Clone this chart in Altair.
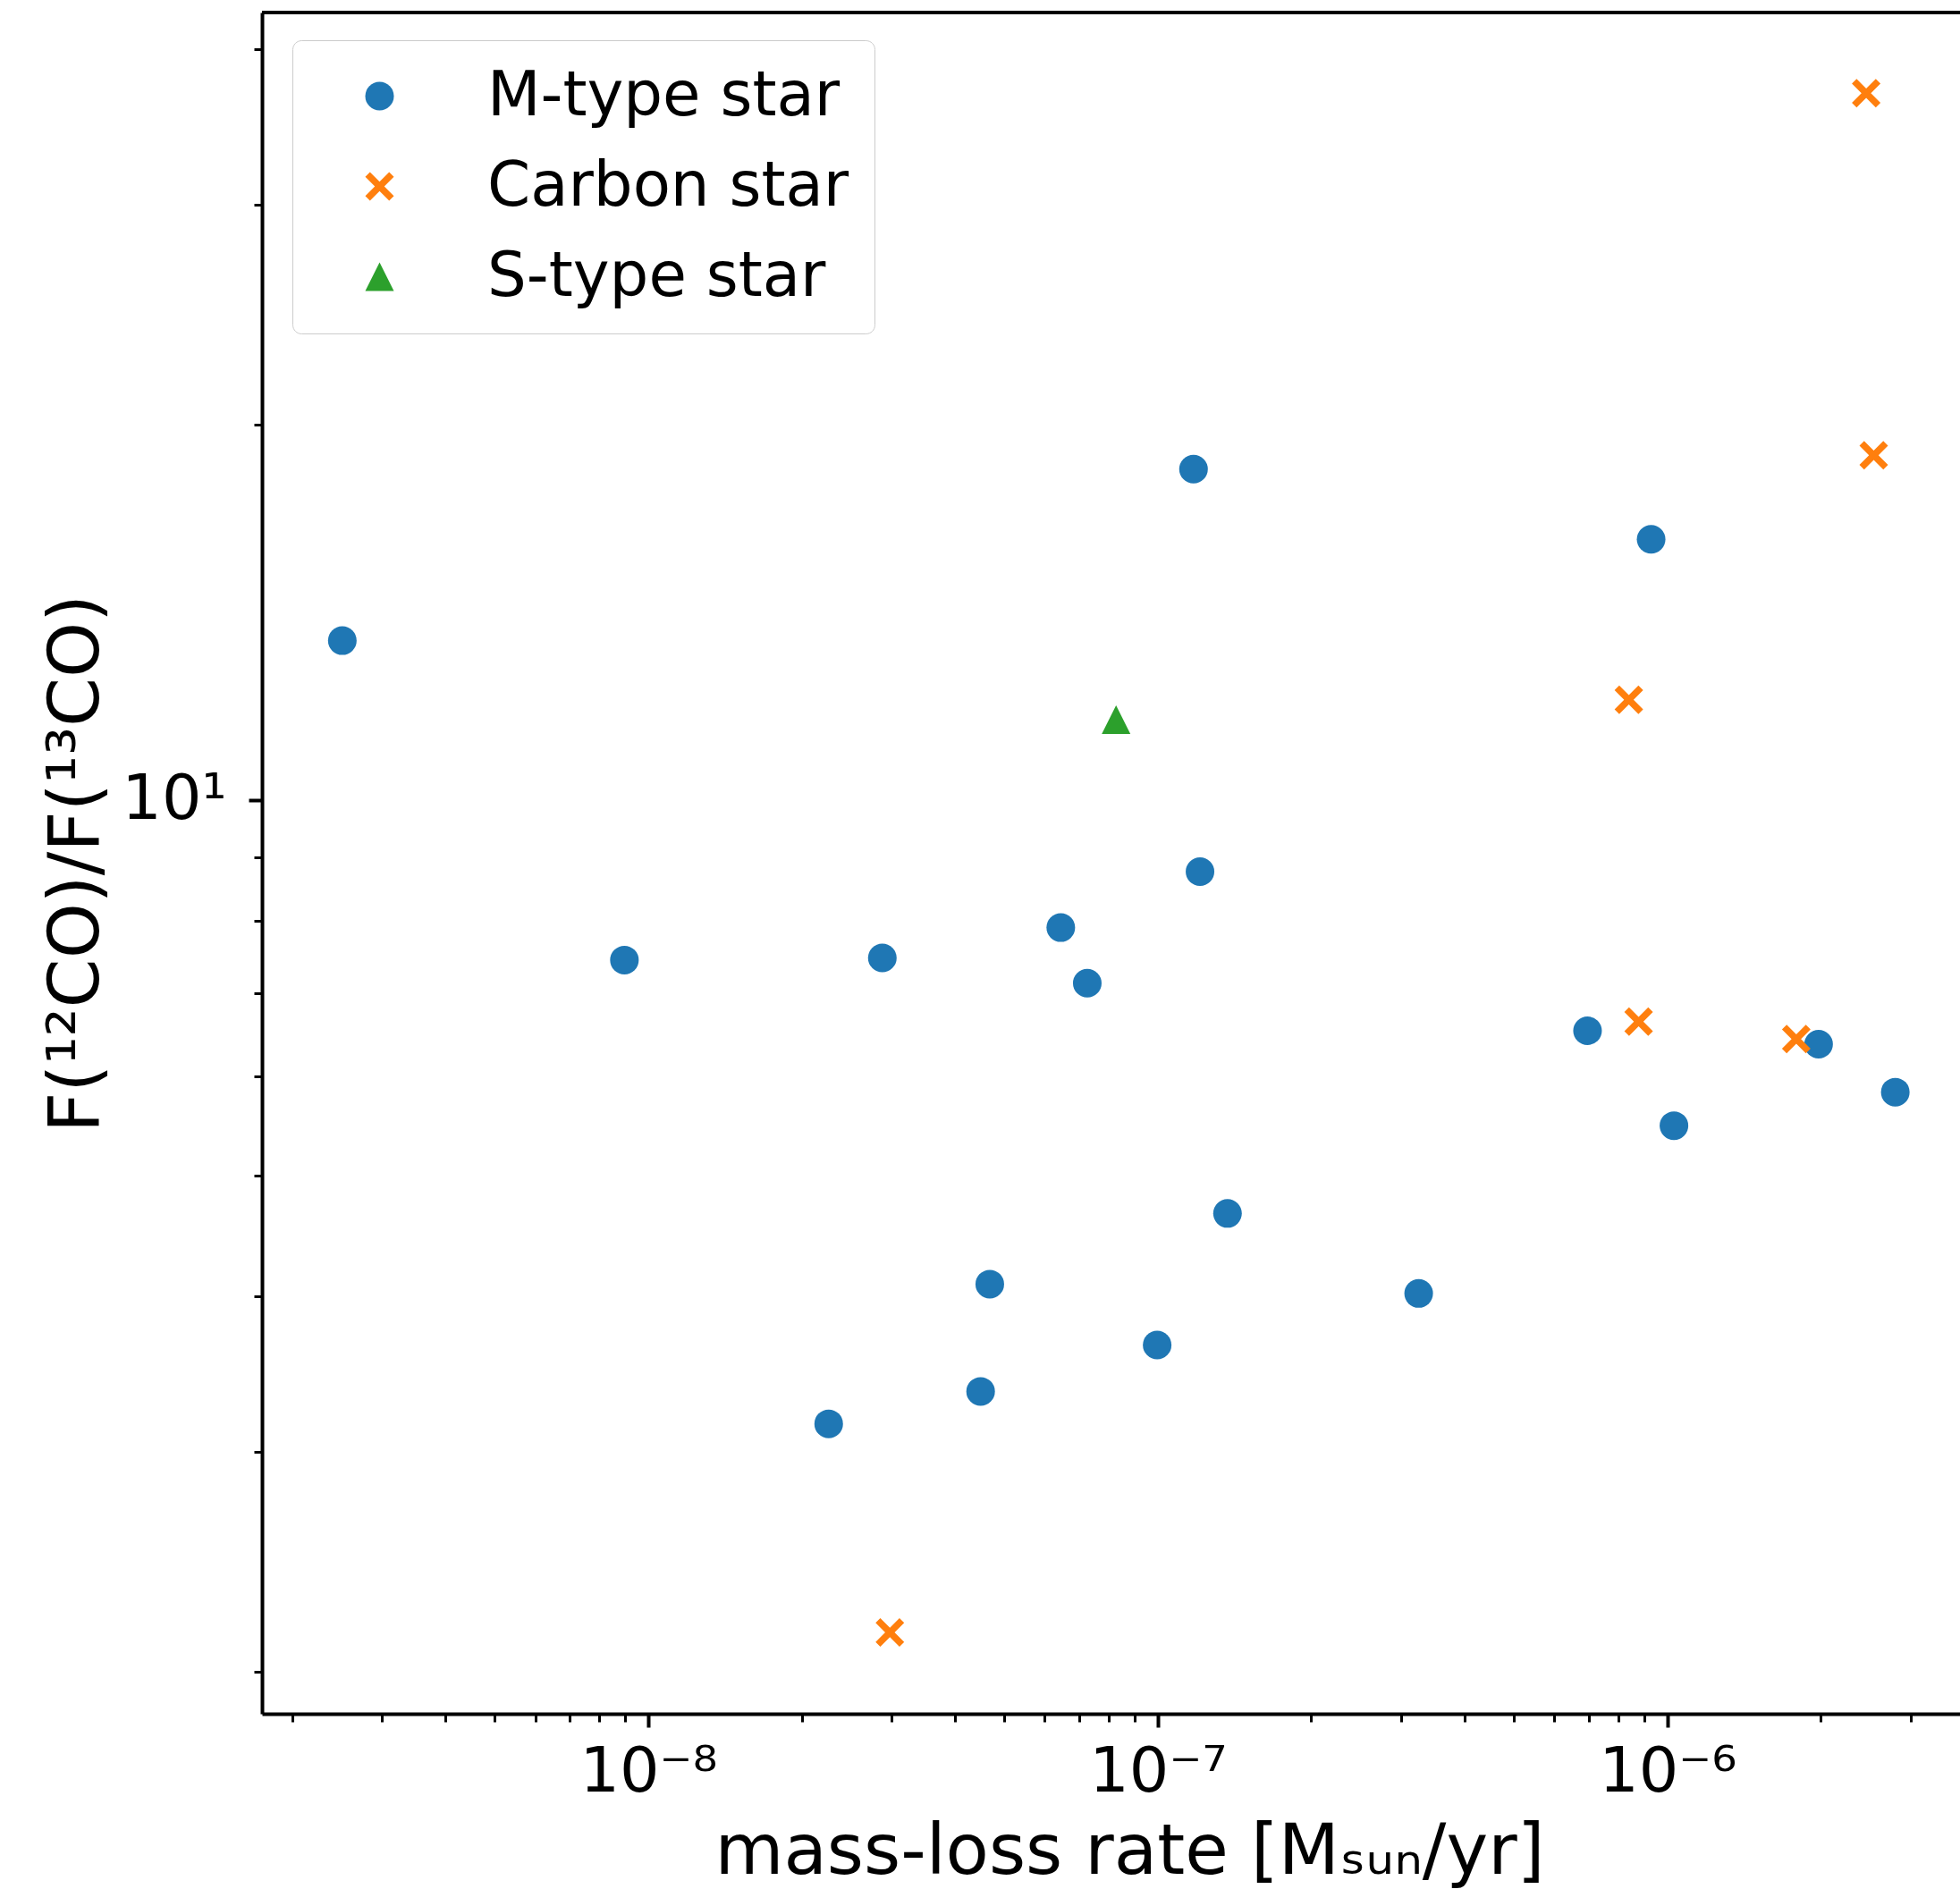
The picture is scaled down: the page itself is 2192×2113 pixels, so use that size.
import altair as alt
import pandas as pd
import math

# ---------------- data ----------------
categories = ["M-type star", "Carbon star", "S-type star"]
colors = ["#1f77b4", "#ff7f0e", "#2ca02c"]

m_rate = [2.51e-9, 8.98e-9, 2.26e-8, 2.88e-8, 4.49e-8, 4.68e-8, 6.45e-8, 7.27e-8,
          9.97e-8, 1.175e-7, 1.21e-7, 1.37e-7, 3.25e-7, 6.97e-7, 9.29e-7, 1.03e-6,
          1.98e-6, 2.80e-6]
m_ratio = [13.42, 7.44, 3.16, 7.47, 3.355, 4.09, 7.90, 7.13,
           3.655, 18.42, 8.76, 4.66, 4.02, 6.53, 16.18, 5.48,
           6.37, 5.83]

c_rate = [2.98e-8, 8.40e-7, 8.78e-7, 1.79e-6, 2.455e-6, 2.54e-6]
c_ratio = [2.15, 12.03, 6.64, 6.43, 36.88, 18.9]

s_rate = [8.28e-8]
s_ratio = [11.60]

x_major = [1e-8, 1e-7, 1e-6]
x_major_labels = ["10⁻⁸", "10⁻⁷", "10⁻⁶"]
x_minor = [2e-9, 3e-9, 4e-9, 5e-9, 6e-9, 7e-9, 8e-9, 9e-9,
           2e-8, 3e-8, 4e-8, 5e-8, 6e-8, 7e-8, 8e-8, 9e-8,
           2e-7, 3e-7, 4e-7, 5e-7, 6e-7, 7e-7, 8e-7, 9e-7,
           2e-6, 3e-6]
y_major = [10]
y_major_labels = ["10¹"]
y_minor = [2, 3, 4, 5, 6, 7, 8, 9, 20, 30, 40]

x_domain = [1.746e-9, 3.751e-6]
y_domain = [1.850, 42.8]

x_title = "mass-loss rate [Mₛᵤₙ/yr]"
y_title = "F(¹²CO)/F(¹³CO)"

# ---------------- table ----------------
df = pd.DataFrame({
    "rate": m_rate + c_rate + s_rate,
    "ratio": m_ratio + c_ratio + s_ratio,
    "type": [categories[0]] * len(m_rate) + [categories[1]] * len(c_rate) + [categories[2]] * len(s_rate),
})

# ---------------- styling ----------------
W, H = 1899, 1903
FONT = "DejaVu Sans"
X_PATH = ("M-1,-0.67L-0.33,0L-1,0.67L-0.67,1L0,0.33L0.67,1L1,0.67L0.33,0"
          "L1,-0.67L0.67,-1L0,-0.33L-0.67,-1Z")
TRI_PATH = "M0,-1L-1,1L1,1Z"
SYM = 1024

xscale = alt.Scale(type="log", domain=x_domain, nice=False)
yscale = alt.Scale(type="log", domain=y_domain, nice=False)


def expr_for(values, labels):
    parts = []
    for v, lab in zip(values, labels):
        parts.append(f"abs(log(datum.value)/LN10 - {math.log10(v)}) < 0.01 ? '{lab}'")
    return " : ".join(parts) + " : ''"


legend = alt.Legend(
    title=None, orient="none", legendX=34, legendY=31,
    padding=28, symbolOffset=35, labelOffset=86,
    labelFontSize=69, labelFont=FONT, labelColor="black", labelLimit=0,
    rowPadding=31, strokeColor="#cccccc", fillColor="white", cornerRadius=10,
    symbolSize=SYM, symbolStrokeWidth=0,
)

x_major_axis = alt.Axis(
    orient="bottom", values=x_major, labelExpr=expr_for(x_major, x_major_labels),
    tickSize=15, tickWidth=4, tickColor="black",
    domainColor="black", domainWidth=4,
    labelFontSize=70, labelFont=FONT, labelColor="black", labelPadding=16,
    labelFlush=False, labelOverlap=False, grid=False,
    title=x_title, titleFont=FONT, titleFontSize=79, titleFontWeight="normal",
    titleColor="black", titleX=970, titleY=178, titleBaseline="alphabetic",
    titleAlign="center", titleAngle=0,
)
x_minor_axis = alt.Axis(
    orient="bottom", values=x_minor, labels=False, tickSize=9, tickWidth=3,
    tickColor="black", domain=False, grid=False, title=None,
)
y_major_axis = alt.Axis(
    orient="left", values=y_major, labelExpr=expr_for(y_major, y_major_labels),
    tickSize=15, tickWidth=4, tickColor="black",
    domainColor="black", domainWidth=4,
    labelFontSize=70, labelFont=FONT, labelColor="black", labelPadding=25,
    labelFlush=False, labelOverlap=False, grid=False,
    title=y_title, titleFont=FONT, titleFontSize=79, titleFontWeight="normal",
    titleColor="black", titleX=-184, titleY=H / 2, titleBaseline="alphabetic",
    titleAlign="center", titleAngle=270,
)
y_minor_axis = alt.Axis(
    orient="left", values=y_minor, labels=False, tickSize=9, tickWidth=3,
    tickColor="black", domain=False, grid=False, title=None,
)

minor = alt.Chart(df).mark_point(opacity=0).encode(
    x=alt.X("rate:Q", scale=xscale, axis=x_minor_axis),
    y=alt.Y("ratio:Q", scale=yscale, axis=y_minor_axis),
)

points = alt.Chart(df).mark_point(filled=True, size=SYM, opacity=1, strokeWidth=0).encode(
    x=alt.X("rate:Q", scale=xscale, axis=x_major_axis),
    y=alt.Y("ratio:Q", scale=yscale, axis=y_major_axis),
    color=alt.Color("type:N", scale=alt.Scale(domain=categories, range=colors), legend=legend),
    shape=alt.Shape("type:N", scale=alt.Scale(domain=categories, range=["circle", X_PATH, TRI_PATH]), legend=legend),
)

top_spine = alt.Chart(pd.DataFrame({"a": [0]})).mark_rule(color="black", strokeWidth=4).encode(
    y=alt.value(0), x=alt.value(0), x2=alt.value(W)
)

chart = (
    alt.layer(minor, points, top_spine)
    .resolve_axis(x="independent", y="independent")
    .properties(
        width=W, height=H,
        autosize=alt.AutoSizeParams(type="none"),
        padding={"left": 293, "top": 14, "right": 0, "bottom": 196},
        background="white",
    )
    .configure_view(stroke=None)
    .configure_legend(strokeWidth=3)
    .configure(font=FONT)
)

chart.save("out.html", embed_options={"renderer": "svg", "actions": False})
